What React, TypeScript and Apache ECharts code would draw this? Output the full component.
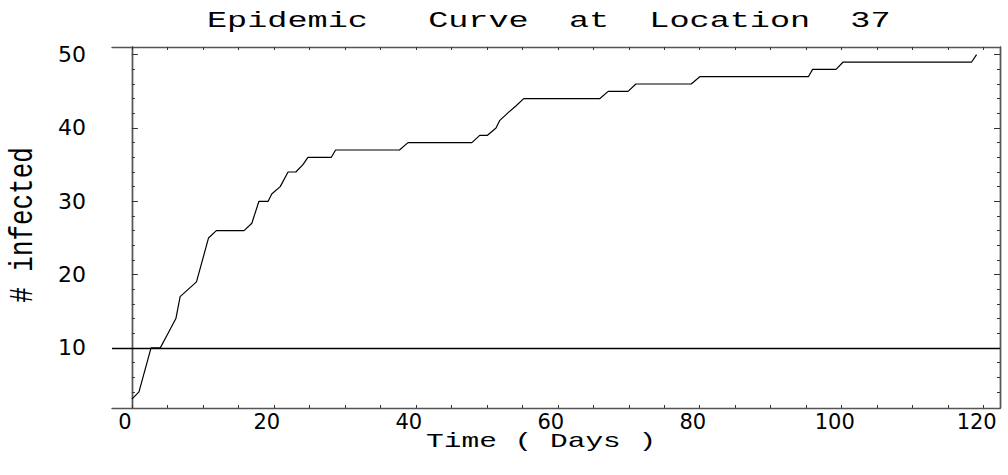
import React, { useEffect, useRef } from "react";
import * as echarts from "echarts";

// Data
const days = [0, 1, 2.7, 4, 5.1, 6.2, 6.8, 9.1, 10.8, 11.9, 15.8, 16.9, 17.9, 19.2, 19.7, 20.9, 22, 23.1, 24.1, 24.8, 28.1, 28.7, 37.7, 38.9, 47.9, 49, 50.1, 51.3, 51.8, 52.9, 54.1, 55.2, 65.9, 67.1, 69.9, 71, 78.8, 80, 95.3, 95.9, 99.2, 100.2, 118.3, 119];
const infected = [3, 4, 10, 10, 12, 14, 17, 19, 25, 26, 26, 27, 30, 30, 31, 32, 34, 34, 35, 36, 36, 37, 37, 38, 38, 39, 39, 40, 41, 42, 43, 44, 44, 45, 45, 46, 46, 47, 47, 48, 48, 49, 49, 50];
const thresholdLevel = 10;

const xTickLabels = [0, 20, 40, 60, 80, 100, 120];
const xTicks = [0, 5, 10, 15, 20, 25, 30, 35, 40, 45, 50, 55, 60, 65, 70, 75, 80, 85, 90, 95, 100, 105, 110, 115, 120];
const yTickLabels = [10, 20, 30, 40, 50];
const yMinorTicks = [4, 6, 8, 12, 14, 16, 18, 22, 24, 26, 28, 32, 34, 36, 38, 42, 44, 46, 48];

const titleText = "Epidemic   Curve  at  Location  37";
const xName = "Time ( Days )";
const yName = "# infected";

const X_MIN = -2.8;
const X_MAX = 122.3;
const Y_MIN = 1.8;
const Y_MAX = 51.05;

export default function App() {
  const ref = useRef<HTMLDivElement>(null);
  useEffect(() => {
    if (!ref.current) return;
    const chart = echarts.init(ref.current, null, { renderer: "svg" });
    const frame = { show: true, lineStyle: { color: "#555", width: 1.4 } };
    const yAxisBase = (position: string, ticks: number[], len: number, labels: boolean) => ({
      type: "value",
      position,
      min: Y_MIN,
      max: Y_MAX,
      axisLine: frame,
      splitLine: { show: false },
      axisTick: { show: true, inside: true, length: len, customValues: ticks, lineStyle: { color: "#333", width: 1 } },
      axisLabel: labels
        ? { show: true, customValues: yTickLabels, margin: 26, fontFamily: "DejaVu Sans", fontSize: 22, color: "#000" }
        : { show: false },
    });
    const xAxisBase = (position: string, labels: boolean) => ({
      type: "value",
      position,
      min: X_MIN,
      max: X_MAX,
      axisLine: frame,
      splitLine: { show: false },
      axisTick: { show: true, inside: true, length: 3, customValues: xTicks, lineStyle: { color: "#333", width: 1 } },
      axisLabel: labels
        ? {
            show: true,
            customValues: xTickLabels,
            margin: 3,
            padding: [0, 14, 0, 0],
            fontFamily: "DejaVu Sans",
            fontSize: 21,
            color: "#000",
          }
        : { show: false },
    });
    chart.setOption({
      animation: false,
      backgroundColor: "#fff",
      grid: { left: 112, right: 8, top: 47, bottom: 67, containLabel: false },
      xAxis: [xAxisBase("bottom", true), xAxisBase("top", false)],
      yAxis: [
        yAxisBase("left", yTickLabels, 6, true),
        yAxisBase("left", yMinorTicks, 3, false),
        yAxisBase("right", yTickLabels, 6, false),
        yAxisBase("right", yMinorTicks, 3, false),
      ],
      series: [
        {
          type: "line",
          xAxisIndex: 0,
          yAxisIndex: 0,
          data: days.map((d, i) => [d, infected[i]]),
          showSymbol: false,
          symbol: "none",
          lineStyle: { color: "#000", width: 1.2 },
          markLine: {
            silent: true,
            symbol: ["none", "none"],
            label: { show: false },
            lineStyle: { color: "#000", width: 1.3, type: "solid" },
            data: [{ yAxis: thresholdLevel }],
          },
        },
      ],
      graphic: [
        {
          type: "text",
          x: 207,
          y: 21.5,
          scaleX: 1.49,
          style: {
            text: titleText,
            fontFamily: "Liberation Mono",
            fontSize: 22.5,
            fill: "#000",
            align: "left",
            textAlign: "left",
            verticalAlign: "middle",
            textVerticalAlign: "middle",
          },
        },
        {
          type: "text",
          x: 426,
          y: 441.5,
          scaleX: 1.44,
          style: {
            text: xName,
            fontFamily: "Liberation Mono",
            fontSize: 20.5,
            fill: "#000",
            align: "left",
            textAlign: "left",
            verticalAlign: "middle",
            textVerticalAlign: "middle",
          },
        },
        {
          type: "text",
          x: 24,
          y: 225,
          rotation: Math.PI / 2,
          scaleX: 1.08,
          scaleY: 1.35,
          style: {
            text: yName,
            fontFamily: "Liberation Mono",
            fontSize: 24,
            fill: "#000",
            align: "center",
            textAlign: "center",
            verticalAlign: "middle",
            textVerticalAlign: "middle",
          },
        },
      ],
    });
    return () => chart.dispose();
  }, []);
  return (
    <div
      ref={ref}
      style={{ position: "fixed", left: 0, top: 0, width: 1008, height: 475 }}
    />
  );
}
